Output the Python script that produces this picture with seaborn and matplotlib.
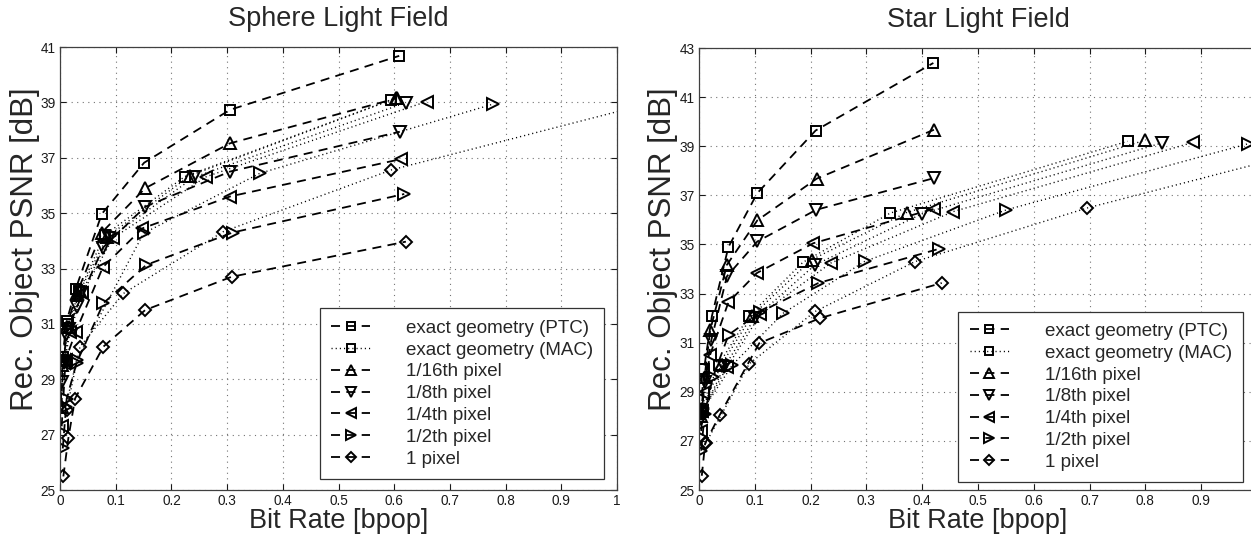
import matplotlib
matplotlib.use("Agg")
import matplotlib.pyplot as plt
import seaborn as sns
import pandas as pd

# ---------------- Sphere light field ----------------
sphere_ptc_sq_x = [0.004, 0.012, 0.028, 0.075, 0.151, 0.305, 0.609]
sphere_ptc_sq_y = [29.7, 31.1, 32.25, 34.97, 36.82, 38.73, 40.68]
sphere_mac_sq_x = [0.006, 0.015, 0.035, 0.080, 0.224, 0.594]
sphere_mac_sq_y = [29.8, 31.0, 32.2, 34.2, 36.32, 39.09]
sphere_ptc_16_x = [0.003, 0.004, 0.012, 0.030, 0.075, 0.153, 0.305, 0.605]
sphere_ptc_16_y = [28.0, 29.5, 30.9, 32.1, 34.3, 35.9, 37.52, 39.15]
sphere_mac_16_x = [0.006, 0.016, 0.036, 0.085, 0.233, 0.603]
sphere_mac_16_y = [29.7, 30.9, 32.2, 34.15, 36.35, 39.15]
sphere_ptc_8_x = [0.004, 0.011, 0.030, 0.077, 0.153, 0.305, 0.610]
sphere_ptc_8_y = [28.9, 30.6, 31.6, 33.75, 35.23, 36.50, 37.94]
sphere_mac_8_x = [0.007, 0.017, 0.038, 0.088, 0.241, 0.621]
sphere_mac_8_y = [29.6, 30.8, 32.1, 34.1, 36.3, 38.99]
sphere_ptc_4_x = [0.003, 0.010, 0.028, 0.077, 0.148, 0.305, 0.612]
sphere_ptc_4_y = [27.3, 29.7, 30.7, 33.05, 34.45, 35.60, 36.95]
sphere_mac_4_x = [0.008, 0.018, 0.040, 0.095, 0.263, 0.658]
sphere_mac_4_y = [29.6, 30.7, 32.1, 34.1, 36.32, 39.03]
sphere_ptc_2_x = [0.005, 0.012, 0.030, 0.078, 0.155, 0.310, 0.618]
sphere_ptc_2_y = [26.5, 28.3, 29.6, 31.75, 33.13, 34.30, 35.69]
sphere_mac_2_x = [0.010, 0.030, 0.150, 0.359, 0.778]
sphere_mac_2_y = [28.0, 29.7, 34.27, 36.44, 38.94]
sphere_ptc_1_x = [0.006, 0.015, 0.027, 0.078, 0.153, 0.308, 0.621]
sphere_ptc_1_y = [25.49, 26.87, 28.3, 30.18, 31.50, 32.70, 33.97]
sphere_mac_1_x = [0.012, 0.036, 0.114, 0.293, 0.595, 1.19]
sphere_mac_1_y = [27.9, 30.18, 32.1, 34.33, 36.56, 39.65]

# ---------------- Star light field ----------------
star_ptc_sq_x = [0.003, 0.009, 0.023, 0.0526, 0.1045, 0.209, 0.420]
star_ptc_sq_y = [28.2, 29.93, 32.07, 34.89, 37.09, 39.64, 42.39]
star_mac_sq_x = [0.003, 0.035, 0.090, 0.186, 0.343, 0.768]
star_mac_sq_y = [28.3, 30.1, 32.1, 34.27, 36.28, 39.2]
star_ptc_16_x = [0.003, 0.010, 0.020, 0.050, 0.1045, 0.211, 0.421]
star_ptc_16_y = [28.0, 29.6, 31.5, 34.17, 35.98, 37.68, 39.67]
star_mac_16_x = [0.004, 0.040, 0.095, 0.202, 0.372, 0.799]
star_mac_16_y = [28.2, 30.1, 32.1, 34.38, 36.30, 39.24]
star_ptc_8_x = [0.004, 0.010, 0.022, 0.050, 0.1045, 0.210, 0.421]
star_ptc_8_y = [27.9, 29.4, 31.1, 33.7, 35.12, 36.41, 37.70]
star_mac_8_x = [0.005, 0.045, 0.100, 0.208, 0.400, 0.829]
star_mac_8_y = [28.1, 30.0, 32.0, 34.17, 36.25, 39.13]
star_ptc_4_x = [0.004, 0.008, 0.020, 0.0526, 0.104, 0.205, 0.421]
star_ptc_4_y = [27.4, 28.95, 30.51, 32.64, 33.84, 35.05, 36.45]
star_mac_4_x = [0.006, 0.050, 0.110, 0.236, 0.456, 0.886]
star_mac_4_y = [28.2, 30.0, 32.15, 34.24, 36.34, 39.16]
star_ptc_2_x = [0.004, 0.010, 0.025, 0.053, 0.110, 0.214, 0.430]
star_ptc_2_y = [26.6, 28.1, 29.6, 31.32, 32.25, 33.43, 34.82]
star_mac_2_x = [0.008, 0.060, 0.151, 0.297, 0.551, 0.984]
star_mac_2_y = [28.3, 30.1, 32.2, 34.31, 36.41, 39.1]
star_ptc_1_x = [0.005, 0.011, 0.037, 0.108, 0.217, 0.435]
star_ptc_1_y = [25.58, 26.9, 28.05, 30.98, 32.0, 33.43]
star_mac_1_x = [0.012, 0.090, 0.208, 0.387, 0.695, 1.25]
star_mac_1_y = [26.9, 30.14, 32.27, 34.30, 36.48, 39.75]

series_keys = ["sq", "16", "8", "4", "2", "1"]
series_markers = {"sq": "s", "16": "^", "8": "v", "4": "<", "2": ">", "1": "D"}
series_sizes = {"sq": 6.5, "16": 8.5, "8": 8.5, "4": 8.5, "2": 8.5, "1": 6.5}
legend_labels = ["exact geometry (PTC)", "exact geometry (MAC)", "1/16th pixel",
                 "1/8th pixel", "1/4th pixel", "1/2th pixel", "1 pixel"]

titles = ["Sphere Light Field", "Star Light Field"]
y_limits = [(25, 41), (25, 43)]
x_ticklabels = [["0", "0.1", "0.2", "0.3", "0.4", "0.5", "0.6", "0.7", "0.8", "0.9", "1"],
                ["0", "0.1", "0.2", "0.3", "0.4", "0.5", "0.6", "0.7", "0.8", "0.9", ""]]
legend_anchor = [(0.977, 0.025), (0.975, 0.018)]
ylabel_x = [-0.036, -0.038]


def build_frame(prefix):
    g = globals()
    rows = []
    for key in series_keys:
        for codec in ("ptc", "mac"):
            xs = g[f"{prefix}_{codec}_{key}_x"]
            ys = g[f"{prefix}_{codec}_{key}_y"]
            for i, (x, y) in enumerate(zip(xs, ys)):
                rows.append({"rate": x, "psnr": y, "series": key, "codec": codec, "order": i})
    return pd.DataFrame(rows)


frames = [build_frame("sphere"), build_frame("star")]

sns.set_theme(style="ticks")
plt.rcParams["font.family"] = ["Liberation Sans", "DejaVu Sans"]

fig = plt.figure(figsize=(12.51, 5.37), dpi=100)
ax_left = fig.add_axes([60 / 1251, 47 / 537, 557 / 1251, 443 / 537])
ax_right = fig.add_axes([699 / 1251, 47 / 537, 558 / 1251, 442 / 537])
axes = [ax_left, ax_right]

for ax, df, title, ylim, xtl, anchor, ylx in zip(axes, frames, titles, y_limits,
                                                 x_ticklabels, legend_anchor, ylabel_x):
    handles = {}
    for key in series_keys:
        for codec in ("ptc", "mac"):
            sub = df[(df.series == key) & (df.codec == codec)].sort_values("order")
            n_before = len(ax.lines)
            sns.lineplot(data=sub, x="rate", y="psnr", ax=ax, estimator=None, sort=False,
                         color="black", marker=series_markers[key],
                         markersize=series_sizes[key], markerfacecolor="none",
                         markeredgecolor="black", markeredgewidth=1.4, legend=False)
            line = ax.lines[n_before]
            if codec == "ptc":
                line.set_linewidth(1.3)
                line.set_dashes((5, 3.5))
            else:
                line.set_linewidth(1.0)
                line.set_dashes((0.8, 2.2))
            handles[(key, codec)] = line

    ax.set_xlim(0, 1)
    ax.set_ylim(*ylim)
    ax.set_xticks([i / 10 for i in range(11)])
    ax.set_xticklabels(xtl)
    ax.set_yticks(list(range(ylim[0], ylim[1] + 1, 2)))
    ax.grid(True, color="0.45", linestyle=(0, (1, 4)), linewidth=0.8)
    ax.tick_params(direction="in", top=True, right=True, length=4, width=0.8,
                   labelsize=9.8, colors="0.1", pad=3)
    for sp in ax.spines.values():
        sp.set_color("0.25")
        sp.set_linewidth(0.9)
    ax.set_title(title, fontsize=19.5, pad=15)
    ax.set_xlabel("Bit Rate [bpop]", fontsize=19.5, labelpad=0)
    ax.set_ylabel("Rec. Object PSNR [dB]", fontsize=22.5)
    ax.yaxis.set_label_coords(ylx, 0.544)

    leg_handles = [handles[("sq", "ptc")], handles[("sq", "mac")], handles[("16", "ptc")],
                   handles[("8", "ptc")], handles[("4", "ptc")], handles[("2", "ptc")],
                   handles[("1", "ptc")]]
    leg = ax.legend(leg_handles, legend_labels, loc="lower right",
                    bbox_to_anchor=anchor, borderaxespad=0, fontsize=13.5,
                    frameon=True, fancybox=False, edgecolor="0.2", framealpha=1,
                    handlelength=2.1, handletextpad=1.9, labelspacing=0.25,
                    borderpad=0.6, markerscale=0.8)
    leg.get_frame().set_linewidth(0.9)

fig.savefig("out.png", dpi=100)
